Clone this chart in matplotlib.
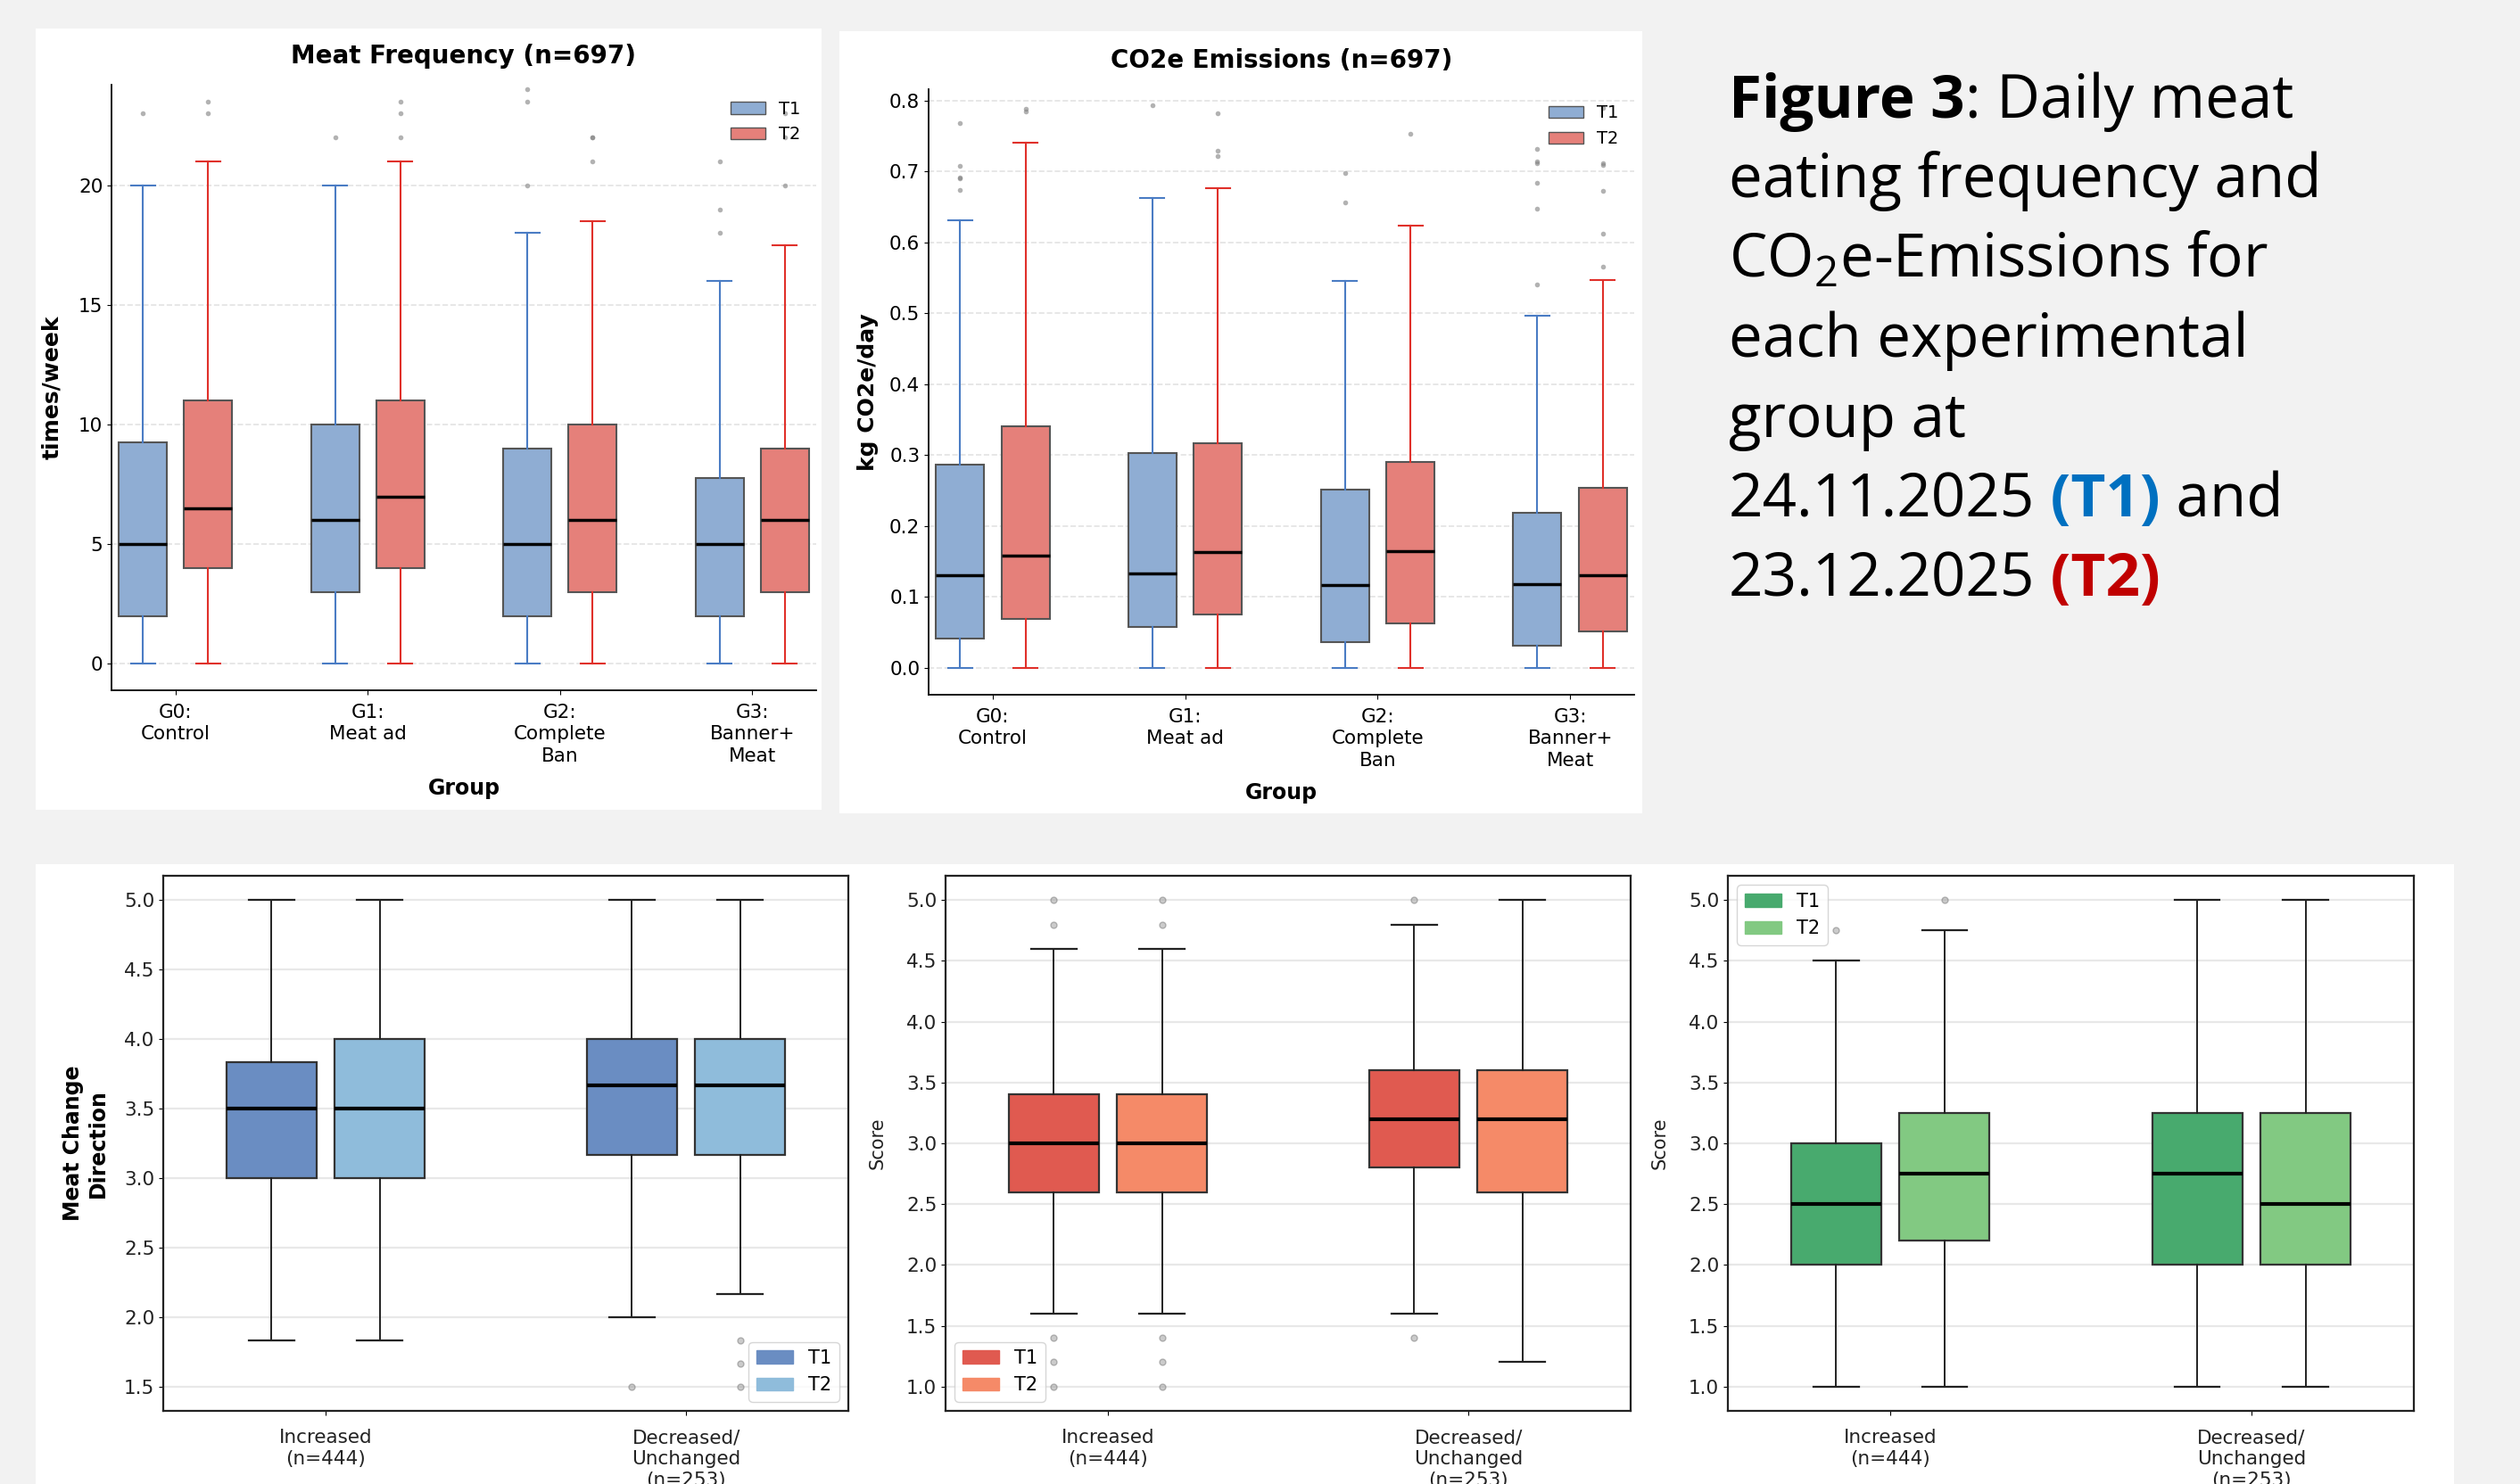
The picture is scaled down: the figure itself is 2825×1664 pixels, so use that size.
import numpy as np
import matplotlib
matplotlib.use("Agg")
import matplotlib.pyplot as plt
from matplotlib.patches import Rectangle, Patch

# ---- data ----
groups = ['G0:\nControl', 'G1:\nMeat ad', 'G2:\nComplete\nBan', 'G3:\nBanner+\nMeat']

freq_t1_lo = [0, 0, 0, 0]
freq_t1_q1 = [2, 3, 2, 2]
freq_t1_med = [5, 6, 5, 5]
freq_t1_q3 = [9.25, 10, 9, 7.75]
freq_t1_hi = [20, 20, 18, 16]
freq_t1_out = [[23], [22], [24, 23.5, 20], [21, 19, 18]]

freq_t2_lo = [0, 0, 0, 0]
freq_t2_q1 = [4, 4, 3, 3]
freq_t2_med = [6.5, 7, 6, 6]
freq_t2_q3 = [11, 11, 10, 9]
freq_t2_hi = [21, 21, 18.5, 17.5]
freq_t2_out = [[23.5, 23], [23.5, 23, 22], [22, 22, 21], [23, 22, 20]]

co2_t1_lo = [0, 0, 0, 0]
co2_t1_q1 = [0.041, 0.057, 0.036, 0.031]
co2_t1_med = [0.131, 0.133, 0.117, 0.118]
co2_t1_q3 = [0.287, 0.303, 0.251, 0.219]
co2_t1_hi = [0.631, 0.663, 0.546, 0.496]
co2_t1_out = [[0.768, 0.708, 0.691, 0.690, 0.674], [0.793], [0.698, 0.656],
              [0.732, 0.714, 0.712, 0.684, 0.647, 0.540]]

co2_t2_lo = [0, 0, 0, 0]
co2_t2_q1 = [0.069, 0.075, 0.063, 0.051]
co2_t2_med = [0.158, 0.163, 0.165, 0.130]
co2_t2_q3 = [0.341, 0.317, 0.290, 0.254]
co2_t2_hi = [0.740, 0.676, 0.623, 0.547]
co2_t2_out = [[0.788, 0.785], [0.782, 0.729, 0.722], [0.753],
              [0.790, 0.712, 0.709, 0.673, 0.612, 0.566]]

change_cats = ['Increased\n(n=444)', 'Decreased/\nUnchanged\n(n=253)']

dir_t1_lo = [1.833, 2.0]
dir_t1_q1 = [3.0, 3.167]
dir_t1_med = [3.5, 3.667]
dir_t1_q3 = [3.833, 4.0]
dir_t1_hi = [5.0, 5.0]
dir_t1_out = [[], [1.5]]

dir_t2_lo = [1.833, 2.167]
dir_t2_q1 = [3.0, 3.167]
dir_t2_med = [3.5, 3.667]
dir_t2_q3 = [4.0, 4.0]
dir_t2_hi = [5.0, 5.0]
dir_t2_out = [[], [1.833, 1.667, 1.5]]

red_t1_lo = [1.6, 1.6]
red_t1_q1 = [2.6, 2.8]
red_t1_med = [3.0, 3.2]
red_t1_q3 = [3.4, 3.6]
red_t1_hi = [4.6, 4.8]
red_t1_out = [[5.0, 4.8, 1.4, 1.2, 1.0], [5.0, 1.4]]

red_t2_lo = [1.6, 1.2]
red_t2_q1 = [2.6, 2.6]
red_t2_med = [3.0, 3.2]
red_t2_q3 = [3.4, 3.6]
red_t2_hi = [4.6, 5.0]
red_t2_out = [[5.0, 4.8, 1.4, 1.2, 1.0], []]

grn_t1_lo = [1.0, 1.0]
grn_t1_q1 = [2.0, 2.0]
grn_t1_med = [2.5, 2.75]
grn_t1_q3 = [3.0, 3.25]
grn_t1_hi = [4.5, 5.0]
grn_t1_out = [[4.75], []]

grn_t2_lo = [1.0, 1.0]
grn_t2_q1 = [2.2, 2.0]
grn_t2_med = [2.75, 2.5]
grn_t2_q3 = [3.25, 3.25]
grn_t2_hi = [4.75, 5.0]
grn_t2_out = [[5.0], []]


def make_stats(lo, q1, med, q3, hi, out):
    return [dict(whislo=a, q1=b, med=c, q3=d, whishi=e, fliers=f)
            for a, b, c, d, e, f in zip(lo, q1, med, q3, hi, out)]


W, H = 2825, 1664
fig = plt.figure(figsize=(W / 100, H / 100), dpi=100, facecolor='#F2F2F2')


def fig_rect(x0, y0, x1, y1):
    # pixel box (top-left origin) -> figure fraction
    return [x0 / W, 1 - y1 / H, (x1 - x0) / W, (y1 - y0) / H]


# white panels behind the charts
for x0, y0, x1, y1 in [(40, 32, 921, 908), (941, 35, 1841, 912), (40, 969, 2751, 1664)]:
    fig.add_artist(Rectangle((x0 / W, 1 - y1 / H), (x1 - x0) / W, (y1 - y0) / H,
                             transform=fig.transFigure, facecolor='white',
                             edgecolor='none', zorder=0))


# ---- top panels ----
def top_panel(rect, s1, s2, title, ylabel, ylim, yticks, ypad):
    ax = fig.add_axes(fig_rect(*rect))
    pos = np.arange(len(groups))
    for stats, off, fc, wc in [(s1, -0.17, '#8FADD3', '#4A7CC4'),
                               (s2, 0.17, '#E5807A', '#E0302A')]:
        ax.bxp(stats, positions=pos + off, widths=0.25, patch_artist=True,
               manage_ticks=False,
               boxprops=dict(facecolor=fc, edgecolor='#555555', linewidth=1.5),
               whiskerprops=dict(color=wc, linewidth=1.5),
               capprops=dict(color=wc, linewidth=1.5),
               medianprops=dict(color='black', linewidth=2.5),
               flierprops=dict(marker='o', markersize=4, markerfacecolor='grey',
                               markeredgecolor='none', alpha=0.6))
    ax.set_xticks(pos)
    ax.set_xticklabels(groups, fontsize=15.5, linespacing=1.3)
    ax.set_yticks(yticks)
    ax.tick_params(axis='y', labelsize=15.5)
    ax.tick_params(axis='x', pad=7)
    ax.set_xlim(-0.333, 3.333)
    ax.set_ylim(*ylim)
    ax.set_title(title, fontsize=20, fontweight='bold', pad=17)
    ax.set_ylabel(ylabel, fontsize=18, fontweight='bold', labelpad=ypad)
    ax.set_xlabel('Group', fontsize=17, fontweight='bold', labelpad=10)
    ax.yaxis.grid(True, linestyle='--', color='#E3E3E3', linewidth=1.2)
    ax.set_axisbelow(True)
    for sp in ['top', 'right']:
        ax.spines[sp].set_visible(False)
    for sp in ['left', 'bottom']:
        ax.spines[sp].set_linewidth(1.3)
    handles = [Patch(facecolor='#8FADD3', edgecolor='#555555', label='T1'),
               Patch(facecolor='#E5807A', edgecolor='#555555', label='T2')]
    ax.legend(handles=handles, loc='upper right', frameon=False, fontsize=14)
    return ax


top_panel((125, 95, 915, 774),
          make_stats(freq_t1_lo, freq_t1_q1, freq_t1_med, freq_t1_q3, freq_t1_hi, freq_t1_out),
          make_stats(freq_t2_lo, freq_t2_q1, freq_t2_med, freq_t2_q3, freq_t2_hi, freq_t2_out),
          'Meat Frequency (n=697)', 'times/week', (-1.1, 24.2), [0, 5, 10, 15, 20], 13)

top_panel((1041, 100, 1832, 779),
          make_stats(co2_t1_lo, co2_t1_q1, co2_t1_med, co2_t1_q3, co2_t1_hi, co2_t1_out),
          make_stats(co2_t2_lo, co2_t2_q1, co2_t2_med, co2_t2_q3, co2_t2_hi, co2_t2_out),
          'CO2e Emissions (n=697)', 'kg CO2e/day', (-0.038, 0.816),
          [0.0, 0.1, 0.2, 0.3, 0.4, 0.5, 0.6, 0.7, 0.8], 9)


# ---- bottom panels ----
def bottom_panel(rect, s1, s2, c1, c2, ylabel, ylab_kw, ylim, yticks, legloc):
    ax = fig.add_axes(fig_rect(*rect))
    pos = np.arange(len(change_cats))
    for stats, off, fc in [(s1, -0.15, c1), (s2, 0.15, c2)]:
        ax.bxp(stats, positions=pos + off, widths=0.25, patch_artist=True,
               manage_ticks=False,
               boxprops=dict(facecolor=fc, edgecolor='#333333', linewidth=1.6),
               whiskerprops=dict(color='#222222', linewidth=1.4),
               capprops=dict(color='#222222', linewidth=1.6),
               medianprops=dict(color='black', linewidth=3),
               flierprops=dict(marker='o', markersize=5, markerfacecolor='#999999',
                               markeredgecolor='#777777', alpha=0.5))
    ax.set_xticks(pos)
    ax.set_xticklabels(change_cats, fontsize=15.5, color='#222222', linespacing=1.25)
    ax.set_yticks(yticks)
    ax.tick_params(axis='y', labelsize=15.5, labelcolor='#222222')
    ax.tick_params(axis='x', pad=11)
    ax.set_xlim(-0.45, 1.45)
    ax.set_ylim(*ylim)
    ax.set_ylabel(ylabel, **ylab_kw)
    ax.yaxis.grid(True, color='#E8E8E8', linewidth=1.6)
    ax.set_axisbelow(True)
    for sp in ax.spines.values():
        sp.set_linewidth(1.6)
        sp.set_color('#222222')
    handles = [Patch(facecolor=c1, edgecolor=c1, label='T1'),
               Patch(facecolor=c2, edgecolor=c2, label='T2')]
    ax.legend(handles=handles, loc=legloc, fontsize=15, framealpha=0.8)
    return ax


bottom_panel((183, 982, 951, 1582),
             make_stats(dir_t1_lo, dir_t1_q1, dir_t1_med, dir_t1_q3, dir_t1_hi, dir_t1_out),
             make_stats(dir_t2_lo, dir_t2_q1, dir_t2_med, dir_t2_q3, dir_t2_hi, dir_t2_out),
             '#6A8DC2', '#8FBCDB', 'Meat Change\nDirection',
             dict(fontsize=17, fontweight='bold', labelpad=12),
             (1.325, 5.175), [1.5, 2.0, 2.5, 3.0, 3.5, 4.0, 4.5, 5.0], 'lower right')

bottom_panel((1060, 982, 1828, 1582),
             make_stats(red_t1_lo, red_t1_q1, red_t1_med, red_t1_q3, red_t1_hi, red_t1_out),
             make_stats(red_t2_lo, red_t2_q1, red_t2_med, red_t2_q3, red_t2_hi, red_t2_out),
             '#E05A50', '#F58A68', 'Score', dict(fontsize=15, color='#222222', labelpad=16),
             (0.8, 5.2), [1.0, 1.5, 2.0, 2.5, 3.0, 3.5, 4.0, 4.5, 5.0], 'lower left')

bottom_panel((1937, 982, 2706, 1582),
             make_stats(grn_t1_lo, grn_t1_q1, grn_t1_med, grn_t1_q3, grn_t1_hi, grn_t1_out),
             make_stats(grn_t2_lo, grn_t2_q1, grn_t2_med, grn_t2_q3, grn_t2_hi, grn_t2_out),
             '#48AA6E', '#82C982', 'Score', dict(fontsize=15, color='#222222', labelpad=16),
             (0.8, 5.2), [1.0, 1.5, 2.0, 2.5, 3.0, 3.5, 4.0, 4.5, 5.0], 'upper left')


# ---- caption text ----
cap_font = 'Open Sans'
plt.rcParams['mathtext.fontset'] = 'custom'
plt.rcParams['mathtext.rm'] = cap_font
caption = [
    [("Figure 3", 'bold', 'black'), (": Daily meat", 'normal', 'black')],
    [("eating frequency and", 'normal', 'black')],
    [("CO$_\\mathrm{2}$e-Emissions for", 'normal', 'black')],
    [("each experimental", 'normal', 'black')],
    [("group at", 'normal', 'black')],
    [("24.11.2025", 'normal', 'black'), (" (T1)", 'bold', '#0070C0'), (" and", 'normal', 'black')],
    [("23.12.2025", 'normal', 'black'), (" (T2)", 'bold', '#C00000')],
]
cap_x = 1938
cap_y0 = 132
cap_step = 89.4
renderer = fig.canvas.get_renderer()
for i, line in enumerate(caption):
    x = cap_x
    y = 1 - (cap_y0 + i * cap_step) / H
    for txt, wt, col in line:
        t = fig.text(x / W, y, txt, fontsize=48.5, fontweight=wt, color=col,
                     family=cap_font, va='baseline', ha='left')
        bb = t.get_window_extent(renderer=renderer)
        x = bb.x1

fig.savefig('out.png', dpi=100, facecolor=fig.get_facecolor())
